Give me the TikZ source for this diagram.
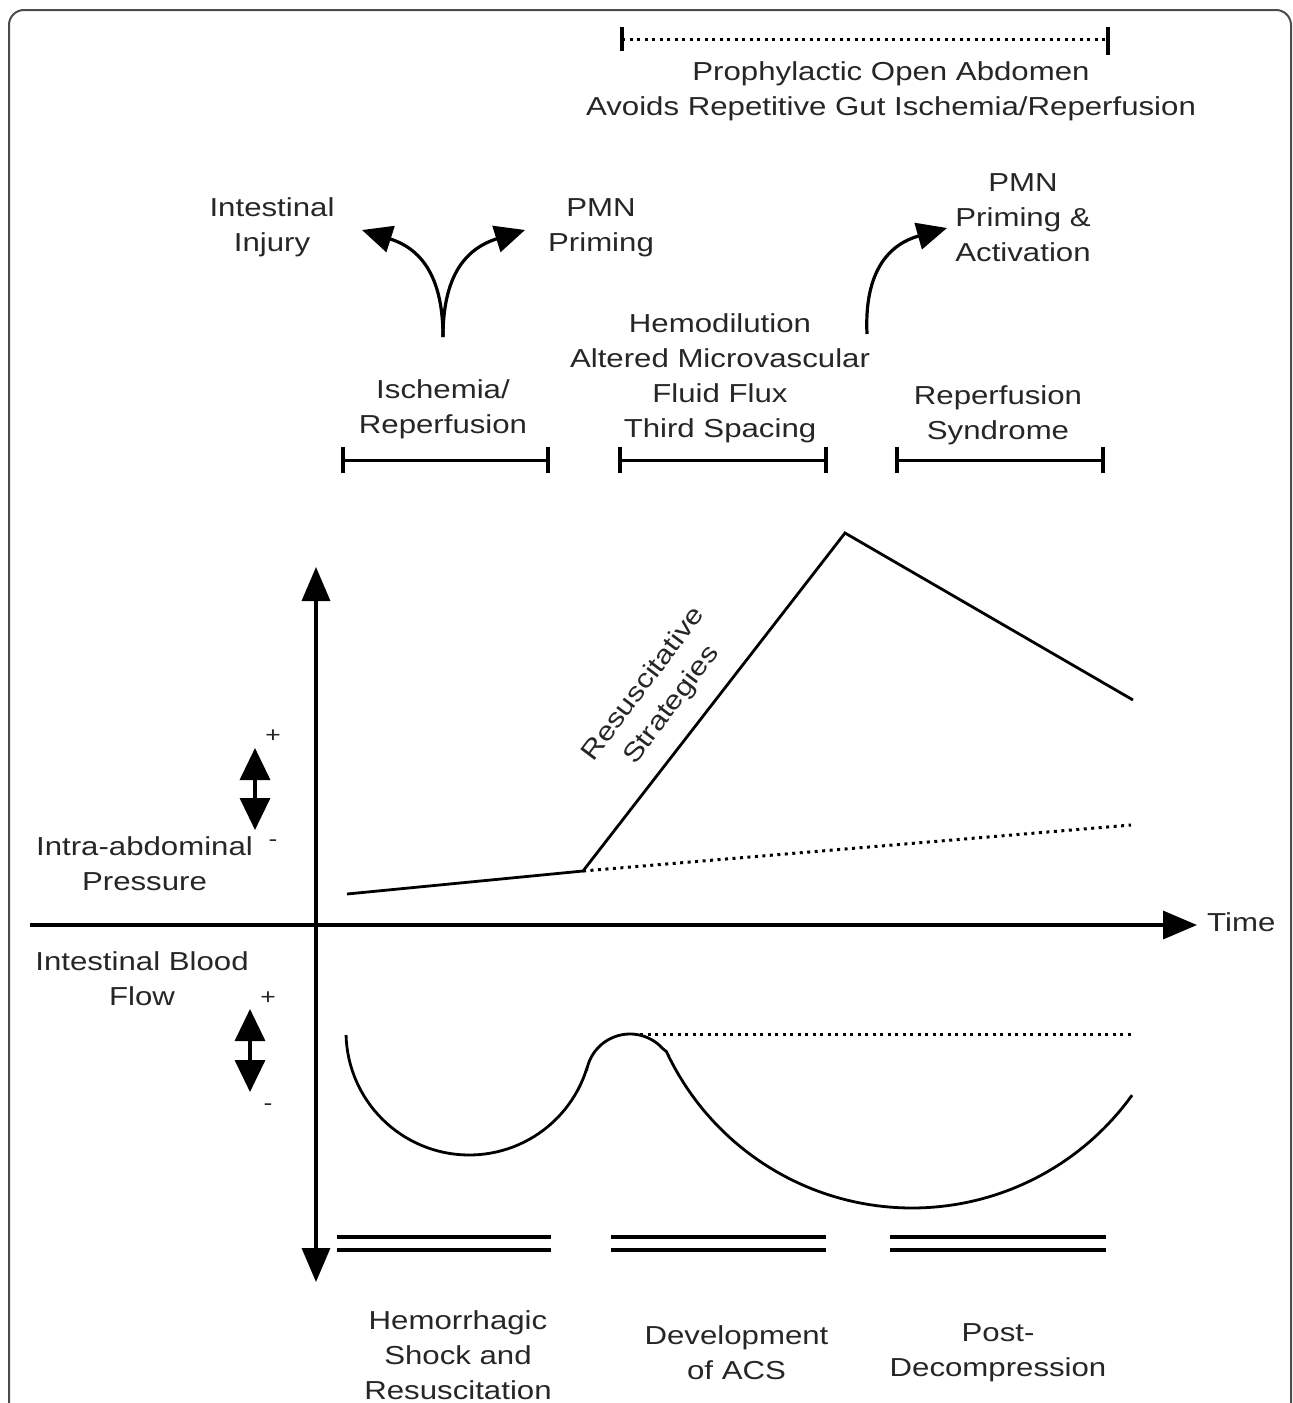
\documentclass[tikz,border=0pt]{standalone}
\usepackage{fontspec}
\setmainfont{Liberation Sans}[FakeStretch=1.2]
\usetikzlibrary{arrows.meta}
\begin{document}
\begin{tikzpicture}[x=1pt,y=-1pt,
  lbl/.style={align=center,font=\fontsize{26}{35}\selectfont,inner sep=0pt,text=black!85},
  pm/.style={font=\fontsize{22}{22}\selectfont,inner sep=0pt,text=black!85},
  axis/.style={line width=3.5pt,-{Triangle[length=34pt,width=28pt]}},
  curve/.style={line width=2.8pt,line join=round},
  dotline/.style={line width=3pt,dash pattern=on 3pt off 4.5pt},
  bar/.style={line width=3pt},
  tick/.style={line width=3.5pt},
  dbl/.style={line width=4pt},
  bigarrow/.style={line width=3.2pt,-{Triangle[length=30pt,width=27pt]}},
  pmarrow/.style={line width=3.5pt,{Triangle[length=32pt,width=30pt]}-{Triangle[length=32pt,width=30pt]}},
  frame/.style={line width=2pt,draw=black!70,rounded corners=15pt}]
\useasboundingbox (0,0) rectangle (1293,1403);
% frame
\coordinate (fbl) at (9,1403);
\coordinate (ftl) at (9,10);
\coordinate (ftr) at (1291,10);
\coordinate (fbr) at (1291,1403);
\draw[frame] (fbl) -- (ftl) -- (ftr) -- (fbr);

% top dotted bracket
\coordinate (pL) at (622,39);
\coordinate (pR) at (1108,39);
\draw[dotline] (pL) -- (pR);
\draw[tick] (622,27) -- (622,51);
\draw[line width=4.5pt] (1108,27) -- (1108,55);
\node[lbl] (poa) at (891,91.5) {Prophylactic Open Abdomen\\Avoids Repetitive Gut Ischemia/Reperfusion};

% upper labels
\node[lbl] (ii) at (272,227.5) {Intestinal\\Injury};
\node[lbl] (pmn1) at (601,227.5) {PMN\\Priming};
\node[lbl] (pmn2) at (1023,218) {PMN\\Priming \&\\Activation};
\node[lbl] (hemo) at (720,378.5) {Hemodilution\\Altered Microvascular\\Fluid Flux\\Third Spacing};
\node[lbl] (isch) at (443,409) {Ischemia/\\Reperfusion};
\node[lbl] (rep) at (998,415.5) {Reperfusion\\Syndrome};

% Y arrows
\coordinate (ys) at (443,337);
\coordinate (yl) at (362,230);
\coordinate (yr) at (525,230);
\draw[bigarrow] (ys) .. controls (443,282) and (425,250) .. (yl);
\draw[bigarrow] (ys) .. controls (443,282) and (461,250) .. (yr);
\coordinate (cs) at (867,334);
\coordinate (ce) at (947,228);
\draw[bigarrow] (cs) .. controls (864,270) and (890,244) .. (ce);

% phase brackets
\foreach \a/\b/\n in {343/548/1,620/826/2,897/1103/3}{
  \coordinate (bl\n) at (\a,460);
  \coordinate (br\n) at (\b,460);
  \draw[bar] (bl\n) -- (br\n);
  \draw[tick] (\a,447) -- (\a,473);
  \draw[tick] (\b,447) -- (\b,473);
}

% axes
\coordinate (vb) at (316,1282);
\coordinate (vt) at (316,567);
\coordinate (vm) at (316,925);
\draw[axis] (vm) -- (vt);
\draw[axis] (vm) -- (vb);
\coordinate (hl) at (30,925);
\coordinate (hr) at (1197,925);
\draw[axis] (hl) -- (hr);
\node[lbl,anchor=west] (time) at (1207,922) {Time};

% IAP lines
\coordinate (i0) at (347,894);
\coordinate (i1) at (583,871);
\coordinate (i2) at (845,533);
\coordinate (i3) at (1133,700);
\coordinate (i4) at (1131,825);
\draw[curve,line join=miter] (i0) -- (i1) -- (i2) -- (i3);
\draw[dotline] (i1) -- (i4);
\node[lbl,rotate=53] (rs) at (658,695) {Resuscitative\\Strategies};

% left labels
\node[lbl] (iap) at (144.5,863.5) {Intra-abdominal\\Pressure};
\node[pm] (p1) at (273,736) {+};
\node[pm] (m1) at (273,843) {-};
\coordinate (a1t) at (255,748);
\coordinate (a1b) at (255,830);
\draw[pmarrow] (a1t) -- (a1b);

\node[lbl] (ibf) at (142,978.5) {Intestinal Blood\\Flow};
\node[pm] (p2) at (268,998) {+};
\node[pm] (m2) at (268,1107) {-};
\coordinate (a2t) at (250,1009);
\coordinate (a2b) at (250,1092);
\draw[pmarrow] (a2t) -- (a2b);

% blood flow curve
\draw[curve] plot[domain=178.5:17,samples=60] ({469.2+123.2*cos(\x)},{1031.8+123.2*sin(\x)})
  -- plot[domain=190:318,samples=40] ({630+44*cos(\x)},{1078+44*sin(\x)})
  -- plot[domain=155:35.7,samples=80] ({912+271*cos(\x)},{937+271*sin(\x)});
\coordinate (d0) at (640,1034);
\coordinate (d1) at (1133,1034);
\draw[dotline] (d0) -- (d1);

% double lines
\foreach \a/\b/\n in {337/551/1,611/826/2,890/1106/3}{
  \coordinate (ul\n) at (\a,1237);
  \coordinate (ur\n) at (\b,1237);
  \coordinate (ll\n) at (\a,1250);
  \coordinate (lr\n) at (\b,1250);
  \draw[dbl] (ul\n) -- (ur\n);
  \draw[dbl] (ll\n) -- (lr\n);
}

% bottom labels
\node[lbl] (hs) at (458,1355) {Hemorrhagic\\Shock and\\Resuscitation};
\node[lbl] (acs) at (736.5,1352.5) {Development\\of ACS};
\node[lbl] (pd) at (998,1352.5) {Post-\\Decompression};
\end{tikzpicture}
\end{document}
